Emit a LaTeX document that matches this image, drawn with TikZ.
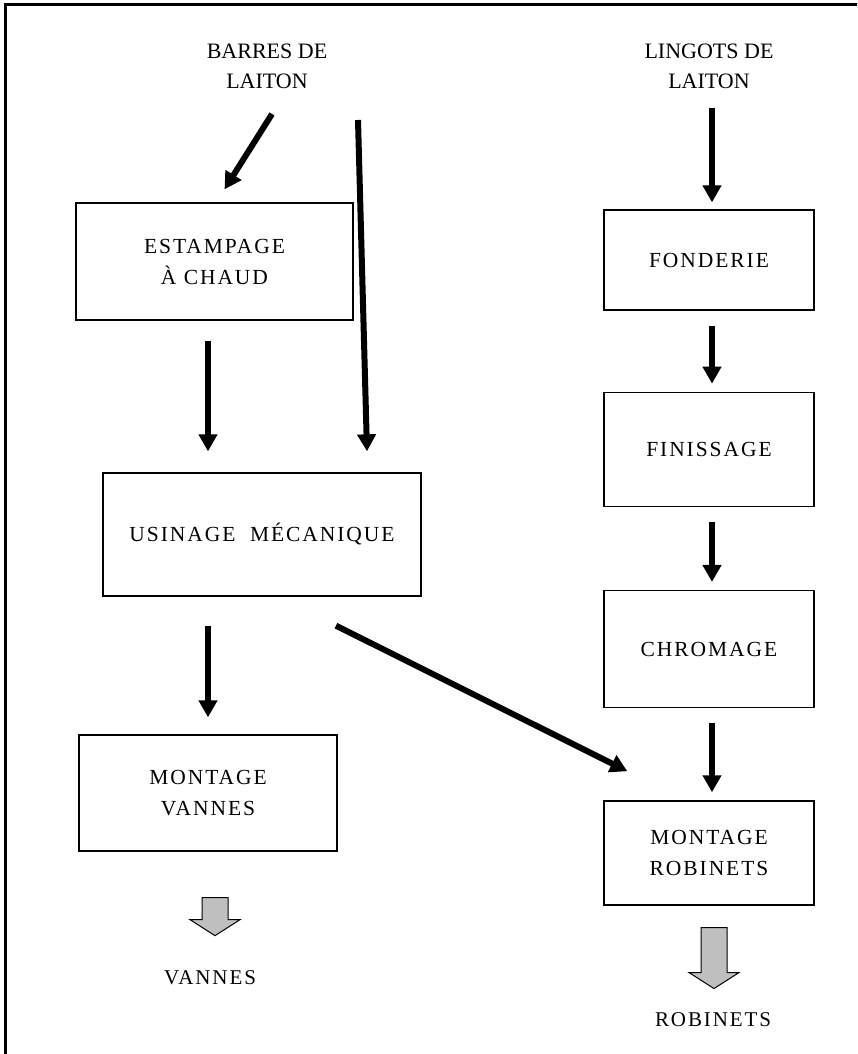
\documentclass[tikz,border=0pt]{standalone}
\usepackage{fontspec}
\setmainfont{Liberation Serif}
\newfontfamily\spacedfont[LetterSpace=9]{Liberation Serif}
\usetikzlibrary{arrows.meta,positioning}

\begin{document}
\begin{tikzpicture}[
  x=1pt,y=-1pt,
  box/.style={draw,line width=1.3pt,minimum width=210pt,minimum height=110pt,align=center,font=\spacedfont\fontsize{21.5}{31}\selectfont},
  source/.style={align=center,font=\fontsize{22}{30}\selectfont},
  product/.style={font=\spacedfont\fontsize{21}{24}\selectfont},
  arrow/.style={-{Triangle[length=17pt,width=18pt]},line width=6pt},
  pics/grayarrow/.style={code={
    \draw[line width=1pt,fill=gray!50] (-13,0) -- (13,0) -- (13,#1) -- (25,#1)
      -- (0,{#1+16}) -- (-25,#1) -- (-13,#1) -- cycle;}}
]
\clip (0,0) rectangle (857,1054);
\draw[line width=2.5pt] (5.5,4.5) rectangle (900,1100);

% left column
\node[source] (barres) at (267,66) {BARRES DE\\LAITON};
\node[box,minimum width=277pt,minimum height=117pt] (estampage) at (214.5,261.5) {ESTAMPAGE\\À CHAUD};
\node[box,minimum width=318pt,minimum height=123pt] (usinage) at (262,534.5) {USINAGE~ MÉCANIQUE};
\node[box,minimum width=258pt,minimum height=116pt] (montvannes) at (208,793) {MONTAGE\\VANNES};
\node[product] (vannes) at (210,978) {VANNES};

% right column
\node[source] (lingots) at (709,66) {LINGOTS DE\\LAITON};
\node[box,minimum height=100pt] (fonderie) at (709,260) {FONDERIE};
\node[box,minimum height=114pt,below=81pt of fonderie] (finissage) {FINISSAGE};
\node[box,minimum height=117pt,below=83pt of finissage] (chromage) {CHROMAGE};
\node[box,minimum height=104pt,below=92pt of chromage] (montrobinets) {MONTAGE\\ROBINETS};
\node[product] (robinets) at (713,1020) {ROBINETS};

% arrows
\draw[arrow] ([xshift=5pt,yshift=-48pt]barres.center) -- ([xshift=10pt,yshift=13pt]estampage.north);
\draw[arrow] ([xshift=91pt,yshift=-54pt]barres.center) -- ([xshift=105pt,yshift=21pt]usinage.north);
\draw[arrow,shorten <=20pt,shorten >=21pt] (estampage.south -| montvannes.north) -- (usinage.north -| montvannes.north);
\draw[arrow,shorten <=29pt,shorten >=17pt] (usinage.south -| montvannes.north) -- (montvannes.north);
\draw[arrow] ([xshift=74pt,yshift=-29pt]usinage.south) -- ([xshift=24pt,yshift=29pt]montrobinets.north west);
\draw[arrow] ([xshift=3pt,yshift=-42pt]lingots.center) -- ([xshift=3pt,yshift=7pt]fonderie.north);
\foreach \a/\b in {fonderie/finissage,finissage/chromage,chromage/montrobinets}
  \draw[arrow,shorten <=15pt,shorten >=8pt] ([xshift=3pt]\a.south) -- ([xshift=3pt]\b.north);

% products
\pic at ([xshift=7pt,yshift=-46pt]montvannes.south) {grayarrow=22};
\pic at ([xshift=5pt,yshift=-22pt]montrobinets.south) {grayarrow=45};
\end{tikzpicture}
\end{document}
